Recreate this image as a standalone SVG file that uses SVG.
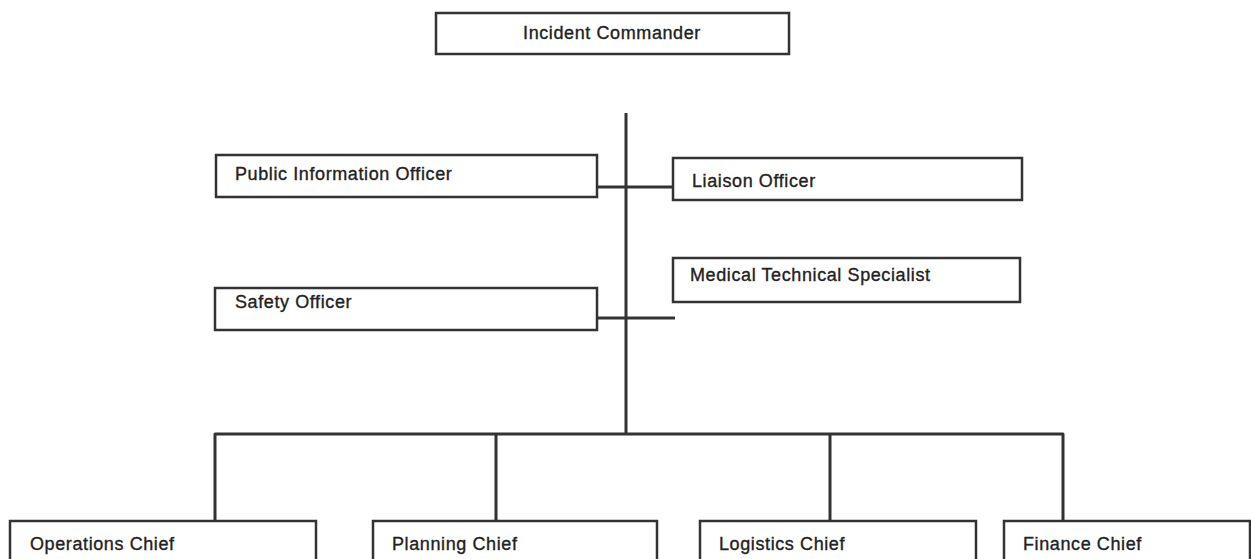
<svg xmlns="http://www.w3.org/2000/svg" width="1251" height="559" viewBox="0 0 1251 559">
<style>
.box{fill:#fff;stroke:#333;stroke-width:2.5}
.lbl{font-family:"Liberation Sans",Arial,sans-serif;font-size:18px;letter-spacing:0.6px;fill:#222;stroke:#222;stroke-width:0.35}
.con{fill:none;stroke:#333;stroke-width:3;stroke-linejoin:round}
</style>
<rect width="1251" height="559" fill="#fff"/>
<g id="connectors">
<path class="con" d="M626,113 V434"/>
<path class="con" d="M597,187 H673"/>
<path class="con" d="M597,318 H675"/>
<path class="con" d="M215,521 V434 H1063 V521"/>
<path class="con" d="M496,434 V521"/>
<path class="con" d="M830,434 V521"/>
</g>
<g id="incident-commander">
<rect class="box" x="436" y="13" width="353" height="41"/>
<text class="lbl" x="612" y="39" text-anchor="middle">Incident Commander</text>
</g>
<g id="public-information-officer">
<rect class="box" x="216" y="155" width="381" height="42"/>
<text class="lbl" x="235" y="180">Public Information Officer</text>
</g>
<g id="liaison-officer">
<rect class="box" x="673" y="158" width="349" height="42"/>
<text class="lbl" x="692" y="187">Liaison Officer</text>
</g>
<g id="medical-technical-specialist">
<rect class="box" x="673" y="258" width="347" height="44"/>
<text class="lbl" x="690" y="281">Medical Technical Specialist</text>
</g>
<g id="safety-officer">
<rect class="box" x="215" y="288" width="382" height="42"/>
<text class="lbl" x="235" y="308">Safety Officer</text>
</g>
<g id="operations-chief">
<rect class="box" x="10" y="521" width="306" height="50"/>
<text class="lbl" x="30" y="550">Operations Chief</text>
</g>
<g id="planning-chief">
<rect class="box" x="373" y="521" width="284" height="50"/>
<text class="lbl" x="392" y="550">Planning Chief</text>
</g>
<g id="logistics-chief">
<rect class="box" x="700" y="521" width="276" height="50"/>
<text class="lbl" x="719" y="550">Logistics Chief</text>
</g>
<g id="finance-chief">
<rect class="box" x="1004" y="521" width="246" height="50"/>
<text class="lbl" x="1023" y="550">Finance Chief</text>
</g>
</svg>
